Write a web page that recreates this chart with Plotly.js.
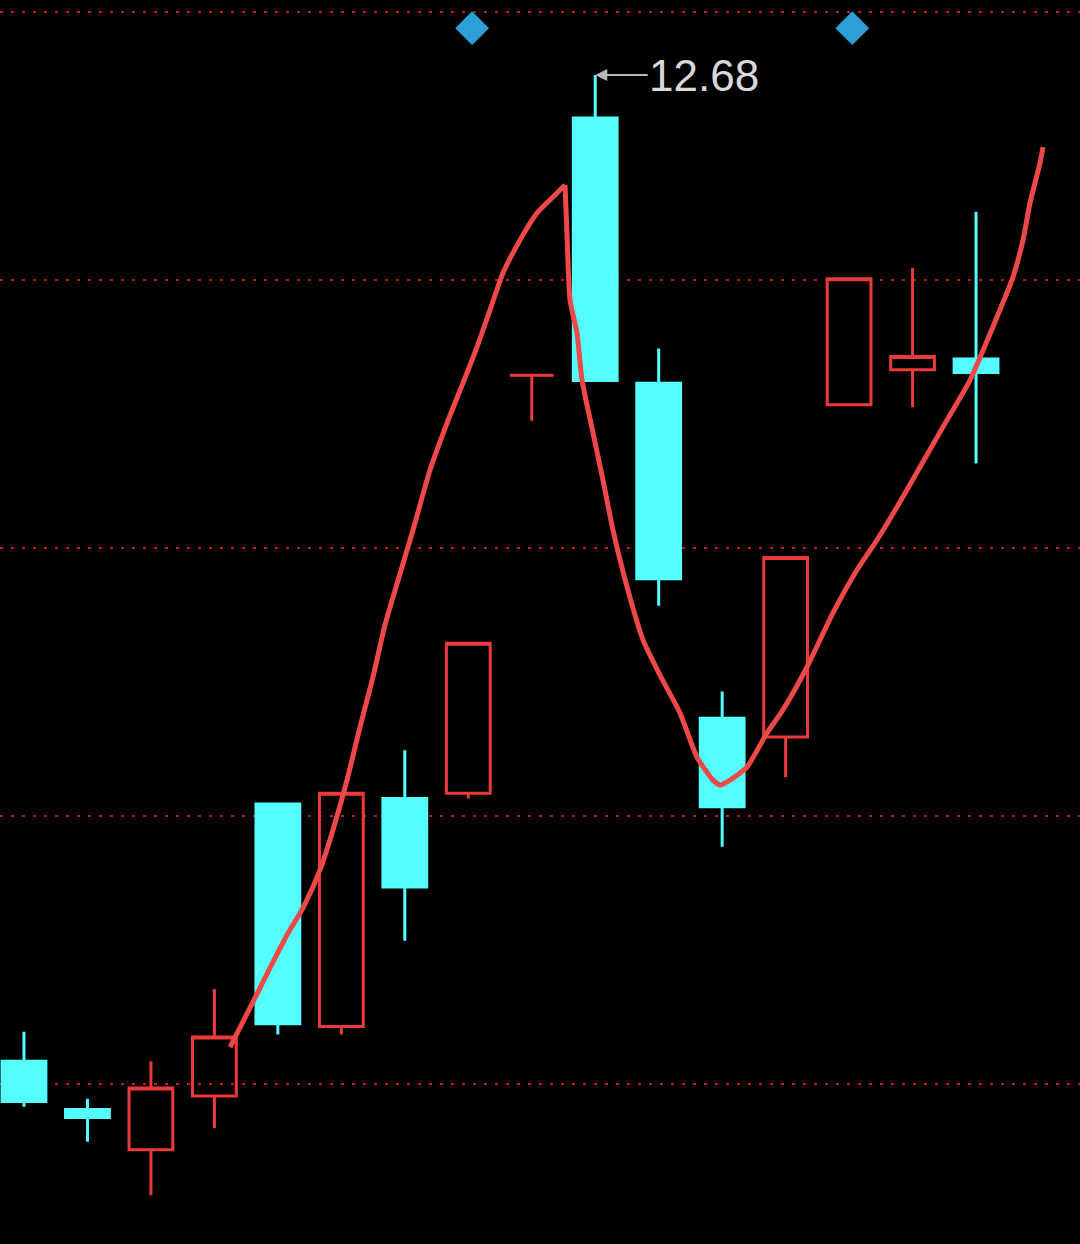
<!DOCTYPE html>
<html>
<head>
<meta charset="utf-8">
<script src="https://cdn.plot.ly/plotly-3.0.1.min.js"></script>
<style>
html,body{margin:0;padding:0;background:#000;}
#chart{width:1080px;height:1244px;}
</style>
</head>
<body>
<div id="chart"></div>
<script>
// Candle data (index = trading day)
var days  = [0,1,2,3,4,5,6,7,8,9,10,11,12,13,14,15];
var open  = [9.00, 8.82, 8.67, 8.87, 9.96, 9.13, 9.98, 10.00, 11.56, 12.52, 11.53, 10.28, 10.21, 11.45, 11.58, 11.62];
var high  = [9.11, 8.86, 9.00, 9.27, 9.96, 10.00, 10.16, 10.56, 11.56, 12.68, 11.66, 10.38, 10.88, 11.92, 11.96, 12.17];
var low   = [8.83, 8.70, 8.50, 8.75, 9.10, 9.10, 9.45, 9.98, 11.39, 11.54, 10.70, 9.80, 10.06, 11.45, 11.44, 11.23];
var close = [8.85, 8.79, 8.90, 9.09, 9.14, 10.00, 9.65, 10.56, 11.56, 11.54, 10.80, 9.95, 10.88, 11.92, 11.63, 11.57];

// Smoothed trend line (x in day units, y in price): rising leg, then falling/recovery leg
var riseX = [3.246,3.608,3.876,4.144,4.396,4.664,4.868,5.089,5.294,5.499,5.688,5.956,6.129,6.397,6.665,6.917,7.137,7.342,7.547,7.815,8.083,8.335,8.524];
var riseY = [9.053,9.221,9.348,9.471,9.572,9.714,9.863,10.049,10.247,10.434,10.628,10.844,10.982,11.206,11.381,11.531,11.665,11.803,11.941,12.064,12.165,12.225,12.270];
var fallX = [8.524,8.555,8.603,8.713,8.792,8.949,9.122,9.280,9.501,9.753,10.020,10.336,10.603,10.856,10.966,11.123,11.391,11.706,11.958,12.337,12.746,13.124,13.439,13.755,14.117,14.479,14.905,15.330,15.582,15.740,15.850,16.008,16.055];
var fallY = [12.270,12.090,11.840,11.717,11.542,11.363,11.169,10.982,10.770,10.572,10.441,10.299,10.135,10.049,10.031,10.049,10.098,10.225,10.311,10.471,10.673,10.833,10.945,11.068,11.217,11.367,11.542,11.777,11.926,12.064,12.202,12.352,12.411];

// Signal markers
var signalX = [7.06, 13.05];
var signalY = [12.855, 12.855];

// Gridline levels and high label
var gridLevels = [8.915, 9.915, 10.915, 11.915, 12.915];
var peakDay = 9, peakPrice = 12.68, peakLabel = '12.68';

var red = '#ec3a3a';
var cyan = '#55ffff';
var lineRed = '#ef4848';

var traces = [
  {
    type: 'candlestick',
    x: days, open: open, high: high, low: low, close: close,
    line: {width: 3},
    increasing: {line: {color: red, width: 3}, fillcolor: 'rgba(0,0,0,0)'},
    decreasing: {line: {color: cyan, width: 3}, fillcolor: cyan},
    whiskerwidth: 0,
    hoverinfo: 'skip',
    showlegend: false
  },
  {
    type: 'scatter', mode: 'lines',
    x: riseX, y: riseY,
    line: {color: lineRed, width: 5, shape: 'spline', smoothing: 0.6},
    hoverinfo: 'skip', showlegend: false
  },
  {
    type: 'scatter', mode: 'lines',
    x: fallX, y: fallY,
    line: {color: lineRed, width: 5, shape: 'spline', smoothing: 0.6},
    hoverinfo: 'skip', showlegend: false
  },
  {
    type: 'scatter', mode: 'markers',
    x: signalX, y: signalY,
    marker: {symbol: 'diamond', size: 26, color: '#2b9fd6'},
    hoverinfo: 'skip', showlegend: false
  }
];

var layout = {
  width: 1080, height: 1244,
  margin: {l: 0, r: 0, t: 0, b: 0, pad: 0},
  paper_bgcolor: '#000', plot_bgcolor: '#000',
  boxgap: 0.31, boxgroupgap: 0,
  showlegend: false,
  xaxis: {
    type: 'linear', range: [-0.378, 16.638],
    showgrid: false, zeroline: false, showticklabels: false, showline: false, ticks: '',
    rangeslider: {visible: false}, fixedrange: true
  },
  yaxis: {
    range: [8.318, 12.960],
    tickmode: 'array', tickvals: gridLevels,
    showgrid: true, gridcolor: '#c01c1c', gridwidth: 2.5, griddash: '2.5px,8.5px',
    zeroline: false, showticklabels: false, showline: false, ticks: '', fixedrange: true
  },
  annotations: [{
    x: peakDay, y: peakPrice, xref: 'x', yref: 'y',
    text: peakLabel, showarrow: true,
    ax: 109, ay: 0,
    arrowcolor: '#b8b8b8', arrowwidth: 2, arrowhead: 2, arrowsize: 1.2, standoff: 0,
    font: {family: 'Liberation Sans, Arial, sans-serif', size: 44, color: '#d9d9d9'}
  }]
};

Plotly.newPlot('chart', traces, layout, {staticPlot: true, displayModeBar: false});
</script>
</body>
</html>
